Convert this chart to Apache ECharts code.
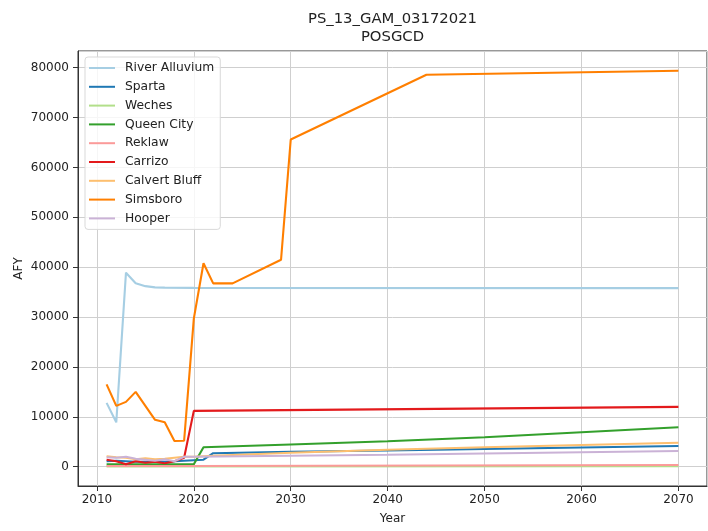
<!DOCTYPE html>
<html>
<head>
<meta charset="utf-8">
<script src="https://cdn.jsdelivr.net/npm/echarts@6/dist/echarts.min.js"></script>
<style>html,body{margin:0;padding:0;background:#fff}#c{width:708px;height:531px}</style>
</head>
<body>
<div id="c"></div>
<script>
const titleLines = ['PS_13_GAM_03172021', 'POSGCD'];
const xName = 'Year';
const yName = 'AFY';
const seriesNames = ['River Alluvium','Sparta','Weches','Queen City','Reklaw','Carrizo','Calvert Bluff','Simsboro','Hooper'];
const seriesColors = ['#a6cee3','#1f78b4','#b2df8a','#33a02c','#fb9a99','#e31a1c','#fdbf6f','#ff7f00','#cab2d6'];

const riverAlluvium = [[2011,12800],[2012,8900],[2013,38900],[2014,36800],[2015,36200],[2016,35950],[2017,35900],[2020,35850],[2070,35800]];
const sparta = [[2011,1100],[2012,1200],[2013,1100],[2014,1000],[2015,1000],[2016,1100],[2017,1000],[2018,1100],[2019,1200],[2020,1300],[2021,1400],[2022,2700],[2030,3000],[2040,3250],[2050,3550],[2060,3850],[2070,4150]];
const weches = [[2011,50],[2070,80]];
const queenCity = [[2011,500],[2020,500],[2021,3900],[2030,4450],[2040,5100],[2050,5900],[2060,6900],[2070,7900]];
const reklaw = [[2011,150],[2020,150],[2070,330]];
const carrizo = [[2011,1400],[2012,1100],[2013,500],[2014,1100],[2015,800],[2016,1000],[2017,700],[2018,1100],[2019,1800],[2020,11200],[2070,12000]];
const calvertBluff = [[2011,2100],[2012,1900],[2013,1800],[2014,1500],[2015,1700],[2016,1500],[2017,1600],[2018,1800],[2019,2000],[2020,2000],[2022,2200],[2030,2800],[2040,3400],[2050,3900],[2060,4350],[2070,4800]];
const simsboro = [[2011,16500],[2012,12200],[2013,13000],[2014,15000],[2015,12200],[2016,9400],[2017,8900],[2018,5150],[2019,5200],[2020,29700],[2021,40800],[2022,36750],[2024,36750],[2029,41500],[2030,65600],[2044,78600],[2070,79400]];
const hooper = [[2011,1900],[2012,1800],[2013,2000],[2014,1600],[2015,1400],[2016,1200],[2017,1500],[2018,1100],[2019,2000],[2020,2000],[2030,2200],[2040,2400],[2050,2650],[2060,2900],[2070,3150]];

const seriesData = [riverAlluvium, sparta, weches, queenCity, reklaw, carrizo, calvertBluff, simsboro, hooper];

const font = 'DejaVu Sans';
const chart = echarts.init(document.getElementById('c'), null, {renderer: 'canvas'});
chart.setOption({
  animation: false,
  backgroundColor: '#fff',
  grid: {left: 78, right: 1, top: 51, bottom: 45, show: true, borderColor: '#333', borderWidth: 1, backgroundColor: 'transparent'},
  graphic: [
    {type: 'text', x: 392.5, y: 19, style: {text: titleLines[0], align: 'center', verticalAlign: 'middle', font: '14.8px "DejaVu Sans"', fill: '#222'}},
    {type: 'text', x: 392.5, y: 37.5, style: {text: titleLines[1], align: 'center', verticalAlign: 'middle', font: '14.8px "DejaVu Sans"', fill: '#222'}}
  ],
  legend: {
    orient: 'vertical', left: 85, top: 57,
    data: seriesNames,
    icon: 'rect', itemWidth: 26, itemHeight: 2, itemGap: 4.8,
    padding: [4, 6, 4, 4],
    borderColor: '#d9d9d9', borderWidth: 1, borderRadius: 3,
    backgroundColor: 'rgba(255,255,255,0.8)',
    textStyle: {fontFamily: font, fontSize: 12.3, color: '#222', lineHeight: 14, padding: [0, 0, 0, 5]}
  },
  xAxis: {
    type: 'value', min: 2008.05, max: 2072.95,
    name: xName, nameLocation: 'middle', nameGap: 27, nameMoveOverlap: false,
    nameTextStyle: {fontFamily: font, fontSize: 12, color: '#222'},
    axisLine: {show: true, onZero: false, lineStyle: {color: '#333', width: 1}},
    axisTick: {show: true, length: 5, lineStyle: {color: '#333'}},
    axisLabel: {fontFamily: font, fontSize: 12, color: '#222', margin: 8, showMinLabel: false, showMaxLabel: false, formatter: v => String(v)},
    splitLine: {show: true, lineStyle: {color: '#cfcfcf', width: 1}}
  },
  yAxis: {
    type: 'value', min: -3870, max: 83350, splitNumber: 8,
    name: yName, nameLocation: 'middle', nameGap: 53, nameMoveOverlap: false,
    nameTextStyle: {fontFamily: font, fontSize: 12, color: '#222'},
    axisLine: {show: true, onZero: false, lineStyle: {color: '#333', width: 1}},
    axisTick: {show: true, length: 5, lineStyle: {color: '#333'}},
    axisLabel: {fontFamily: font, fontSize: 12, color: '#222', margin: 9, showMinLabel: false, showMaxLabel: false, formatter: v => String(v)},
    splitLine: {show: true, lineStyle: {color: '#cfcfcf', width: 1}}
  },
  series: seriesNames.map((n, i) => ({
    name: n, type: 'line', data: seriesData[i], symbol: 'none',
    color: seriesColors[i],
    lineStyle: {color: seriesColors[i], width: 2.1},
    itemStyle: {color: seriesColors[i]}
  }))
});
</script>
</body>
</html>
